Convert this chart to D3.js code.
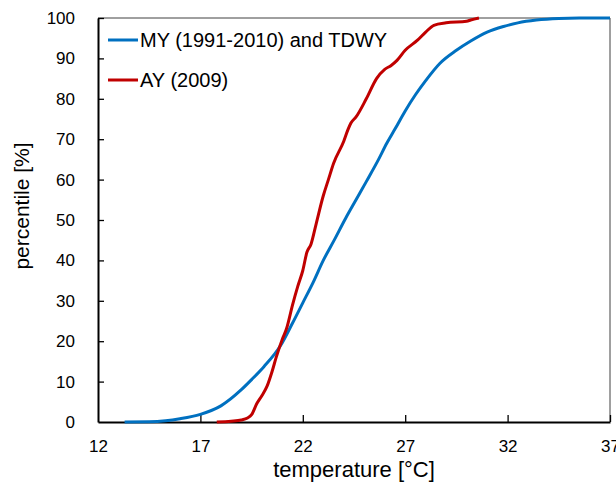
<!DOCTYPE html>
<html>
<head>
<meta charset="utf-8">
<script src="https://cdn.jsdelivr.net/npm/d3@7"></script>
<style>
  body { margin: 0; background: #fff; }
  text { font-family: Arial, "Liberation Sans", sans-serif; fill: #000; }
</style>
</head>
<body>
<div id="chart"></div>
<script>
// MY (1991-2010) and TDWY : temperature [°C] vs percentile [%]
const myTemp = [13.3, 14.5, 15.3, 16.0, 17.0, 18.0, 19.0, 19.5, 20.1, 20.9, 21.5, 22.0, 22.5, 23.0, 23.5, 24.1, 24.6, 25.1, 25.7, 26.1, 26.5, 27.0, 27.5, 28.0, 28.7, 29.5, 30.2, 31.0, 31.8, 32.5, 33.4, 34.5, 35.5, 37.0];
const myPct  = [0, 0.05, 0.3, 0.8, 1.9, 4.0, 8.0, 10.5, 13.7, 18.8, 24.5, 29.5, 34.5, 40, 44.7, 50.5, 55, 59.5, 65, 69, 72.5, 77, 81, 84.5, 88.8, 92, 94.3, 96.5, 97.9, 98.8, 99.5, 99.9, 100, 100];

// AY (2009)
const ayTemp = [17.8, 18.5, 19.0, 19.3, 19.5, 19.75, 20.0, 20.25, 20.5, 20.7, 21.0, 21.2, 21.5, 21.75, 22.0, 22.2, 22.4, 22.65, 23.0, 23.25, 23.5, 24.0, 24.2, 24.35, 24.6, 25.1, 25.6, 26.0, 26.3, 26.6, 27.0, 27.6, 28.0, 28.4, 29.0, 30.0, 30.2, 30.6];
const ayPct  = [0, 0.2, 0.5, 1, 1.8, 4.5, 6.5, 8.8, 12.5, 16, 20.5, 23, 29, 33.5, 37.5, 42, 44, 49, 56, 60, 64, 69.5, 72.3, 74, 75.5, 80, 85, 87.3, 88.2, 89.5, 92, 94.5, 96.5, 98.2, 98.8, 99.2, 99.5, 100];

const seriesNames = ["MY (1991-2010) and TDWY", "AY (2009)"];
const seriesColors = ["#0070C0", "#C00000"];

const xTicks = [12, 17, 22, 27, 32, 37];
const yTicks = [0, 10, 20, 30, 40, 50, 60, 70, 80, 90, 100];

const W = 616, H = 486;
const margin = {top: 18, right: 6, bottom: 64, left: 98};
const width = W - margin.left - margin.right;
const height = H - margin.top - margin.bottom;

const svg = d3.select("#chart").append("svg")
  .attr("width", W)
  .attr("height", H);

const g = svg.append("g")
  .attr("transform", "translate(" + margin.left + "," + margin.top + ")");

const x = d3.scaleLinear().domain([12, 37]).range([0, width]);
const y = d3.scaleLinear().domain([0, 100]).range([height, 0]);

// frame (top/right)
g.append("path")
  .attr("d", "M0,0H" + width + "V" + height)
  .attr("fill", "none")
  .attr("stroke", "#404040")
  .attr("stroke-width", 1);

// axes, ticks inside
const xAxis = g.append("g")
  .attr("transform", "translate(0," + height + ")")
  .call(d3.axisBottom(x).tickValues(xTicks).tickSizeInner(-7).tickSizeOuter(0).tickPadding(18));

const yAxis = g.append("g")
  .call(d3.axisLeft(y).tickValues(yTicks).tickSizeInner(-6).tickSizeOuter(0).tickPadding(23));

[xAxis, yAxis].forEach(a => {
  a.select(".domain").attr("stroke", "#000").attr("stroke-width", 2);
  a.selectAll(".tick line").attr("stroke", "#000").attr("stroke-width", 1.3);
  a.selectAll(".tick text").style("font-size", "17px").attr("fill", "#000");
});
yAxis.selectAll(".tick").filter(d => d === 0).select("line").remove();
xAxis.selectAll(".tick").filter(d => d === 12).select("line").remove();

// lines
const line = d3.line()
  .x(d => x(d[0]))
  .y(d => y(d[1]))
  .curve(d3.curveMonotoneX);

const data = [
  myTemp.map((t, i) => [t, myPct[i]]),
  ayTemp.map((t, i) => [t, ayPct[i]])
];

data.forEach((d, i) => {
  g.append("path")
    .datum(d)
    .attr("fill", "none")
    .attr("stroke", seriesColors[i])
    .attr("stroke-width", 3)
    .attr("stroke-linejoin", "round")
    .attr("d", line);
});

// legend
const legend = svg.append("g");
seriesNames.forEach((name, i) => {
  const ly = 40 + i * 40;
  legend.append("line")
    .attr("x1", 108).attr("x2", 138)
    .attr("y1", ly).attr("y2", ly)
    .attr("stroke", seriesColors[i])
    .attr("stroke-width", 3);
  legend.append("text")
    .attr("x", 140)
    .attr("y", ly + 7)
    .style("font-size", "20px")
    .text(name);
});

// axis titles
svg.append("text")
  .attr("x", margin.left + width / 2)
  .attr("y", 477)
  .attr("text-anchor", "middle")
  .style("font-size", "22px")
  .text("temperature [°C]");

svg.append("text")
  .attr("transform", "translate(29,206) rotate(-90)")
  .attr("text-anchor", "middle")
  .style("font-size", "21px")
  .text("percentile [%]");
</script>
</body>
</html>
